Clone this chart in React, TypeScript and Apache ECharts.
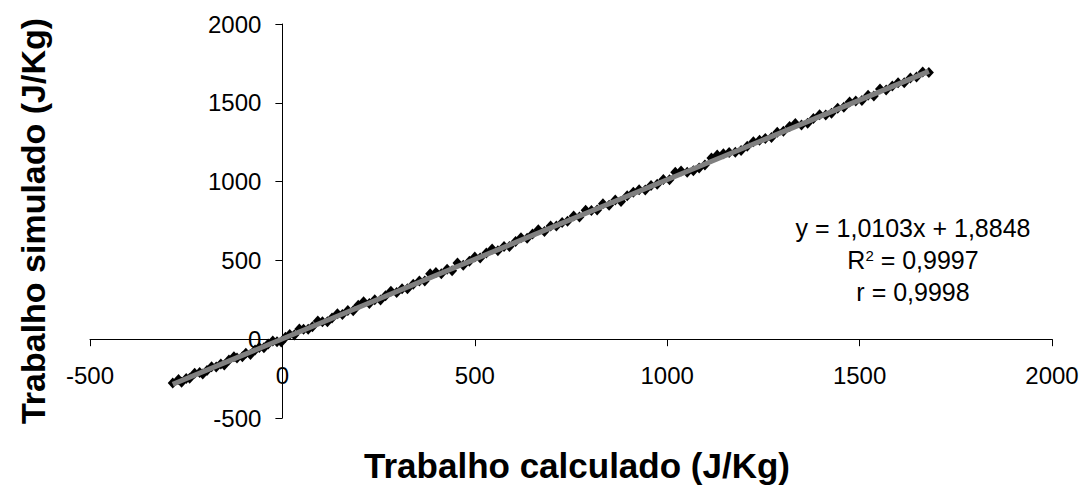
import { useEffect, useRef } from "react";
import * as echarts from "echarts";

const xCalc = [
  -285, -270, -262, -250, -241, -228, -215, -207, -196, -184,
  -172, -160, -151, -139, -126, -118, -104, -95, -83, -71,
  -60, -48, -37, -25, -14, -3, 8, 19, 31, 44,
  55, 67, 78, 92, 104, 117, 129, 143, 156, 170,
  184, 197, 211, 226, 240, 255, 268, 282, 297, 311,
  325, 340, 356, 370, 384, 399, 413, 428, 441, 455,
  470, 486, 500, 514, 530, 545, 560, 576, 590, 606,
  620, 636, 650, 665, 681, 697, 712, 727, 741, 757,
  772, 788, 803, 818, 833, 849, 865, 880, 896, 912,
  927, 943, 958, 974, 990, 1006, 1021, 1036, 1052, 1068,
  1083, 1098, 1115, 1130, 1146, 1161, 1177, 1192, 1208, 1224,
  1240, 1255, 1271, 1286, 1302, 1318, 1333, 1349, 1365, 1380,
  1396, 1412, 1427, 1443, 1459, 1474, 1490, 1506, 1522, 1537,
  1553, 1569, 1585, 1600, 1616, 1632, 1648, 1664, 1680,
];

const ySim = [
  -278, -256, -273, -249, -247, -216, -211, -221, -199, -175,
  -177, -157, -163, -132, -111, -119, -111, -89, -97, -69,
  -52, -55, -31, -11, -16, -17, 12, 30, 27, 64,
  63, 63, 79, 115, 111, 110, 135, 161, 157, 182,
  180, 215, 237, 226, 250, 248, 275, 305, 296, 320,
  320, 348, 370, 370, 415, 423, 416, 444, 435, 484,
  469, 495, 521, 516, 547, 573, 562, 588, 588, 620,
  644, 641, 668, 694, 683, 718, 718, 741, 749, 781,
  776, 818, 816, 820, 859, 850, 884, 873, 911, 932,
  949, 947, 976, 983, 1014, 1012, 1059, 1067, 1060, 1069,
  1086, 1106, 1150, 1168, 1176, 1185, 1187, 1198, 1225, 1253,
  1263, 1274, 1280, 1313, 1319, 1349, 1369, 1359, 1371, 1401,
  1424, 1423, 1434, 1466, 1472, 1505, 1512, 1515, 1548, 1543,
  1587, 1581, 1607, 1628, 1627, 1657, 1663, 1695, 1693,
];

const trendSlope = 1.0103;
const trendIntercept = 1.8848;

const axisMin = -500;
const axisMax = 2000;
const axisStep = 500;

const equationLines = ["y = 1,0103x + 1,8848", "R{s|2}{t| = 0,9997}", "r = 0,9998"];
const xTitle = "Trabalho calculado (J/Kg)";
const yTitle = "Trabalho simulado (J/Kg)";

const FONT = "'Liberation Sans', Arial, sans-serif";

const GRID_LEFT = 90;
const GRID_TOP = 24;
const GRID_W = 962;
const GRID_H = 394;

export default function App() {
  const ref = useRef<HTMLDivElement>(null);

  useEffect(() => {
    if (!ref.current) return;
    const chart = echarts.init(ref.current, null, { renderer: "svg" });

    const n = Math.min(xCalc.length, ySim.length);
    const points: [number, number][] = [];
    for (let i = 0; i < n; i++) points.push([xCalc[i], ySim[i]]);
    const xMinData = Math.min(...xCalc);
    const xMaxData = Math.max(...xCalc);
    const trend: [number, number][] = [
      [xMinData, trendSlope * xMinData + trendIntercept],
      [xMaxData, trendSlope * xMaxData + trendIntercept],
    ];

    // place each axis where the other axis is zero (like Excel's crossing at 0)
    const zeroFrac = (0 - axisMin) / (axisMax - axisMin);
    const xAxisOffset = -(GRID_H * zeroFrac);
    const yAxisOffset = -(GRID_W * zeroFrac);

    const axisCommon = {
      type: "value" as const,
      min: axisMin,
      max: axisMax,
      interval: axisStep,
      splitLine: { show: false },
      axisLine: { show: true, onZero: false, lineStyle: { color: "#000", width: 1 } },
      axisTick: { show: true, inside: false, length: 7, lineStyle: { color: "#000", width: 1 } },
    };

    chart.setOption({
      animation: false,
      backgroundColor: "#fff",
      grid: { left: GRID_LEFT, top: GRID_TOP, width: GRID_W, height: GRID_H, containLabel: false },
      xAxis: {
        ...axisCommon,
        position: "bottom",
        offset: xAxisOffset,
        axisLabel: {
          color: "#000",
          fontSize: 24,
          fontFamily: FONT,
          margin: 24,
          formatter: (v: number) => String(v),
        },
      },
      yAxis: {
        ...axisCommon,
        position: "left",
        offset: yAxisOffset,
        axisLabel: {
          color: "#000",
          fontSize: 24,
          fontFamily: FONT,
          margin: 21,
          formatter: (v: number) => String(v),
        },
      },
      series: [
        {
          type: "scatter",
          data: points,
          symbol: "diamond",
          symbolSize: [10, 11],
          itemStyle: { color: "#000", opacity: 1 },
          z: 2,
        },
        {
          type: "line",
          data: trend,
          symbol: "none",
          lineStyle: { color: "#808080", width: 5 },
          z: 3,
        },
      ],
      graphic: [
        {
          type: "text",
          x: 33,
          y: 221,
          rotation: Math.PI / 2,
          style: {
            text: yTitle,
            font: `bold 34px ${FONT}`,
            fill: "#000",
            align: "center",
            verticalAlign: "middle",
          },
        },
        {
          type: "text",
          x: 577,
          y: 465,
          style: {
            text: xTitle,
            font: `bold 35px ${FONT}`,
            fill: "#000",
            align: "center",
            verticalAlign: "middle",
          },
        },
        {
          type: "text",
          x: 913,
          y: 228,
          style: {
            text: equationLines[0],
            font: `25px ${FONT}`,
            fill: "#000",
            align: "center",
            verticalAlign: "middle",
          },
        },
        {
          type: "text",
          x: 913,
          y: 260,
          style: {
            text: equationLines[1],
            font: `25px ${FONT}`,
            fill: "#000",
            align: "center",
            verticalAlign: "middle",
            rich: {
              s: { fontSize: 15, fontFamily: FONT, verticalAlign: "top", padding: [0, 0, 10, 0] },
              t: { fontSize: 25, fontFamily: FONT },
            },
          },
        },
        {
          type: "text",
          x: 913,
          y: 292,
          style: {
            text: equationLines[2],
            font: `25px ${FONT}`,
            fill: "#000",
            align: "center",
            verticalAlign: "middle",
          },
        },
      ],
    });

    return () => chart.dispose();
  }, []);

  return (
    <div
      ref={ref}
      style={{ position: "fixed", left: 0, top: 0, width: 1087, height: 488 }}
    />
  );
}
